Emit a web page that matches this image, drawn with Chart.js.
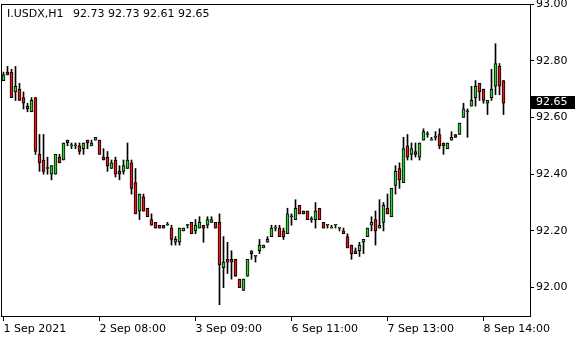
<!DOCTYPE html>
<html>
<head>
<meta charset="utf-8">
<script src="https://cdn.jsdelivr.net/npm/chart.js@4.4.1/dist/chart.umd.min.js"></script>
<style>
  html, body { margin: 0; padding: 0; background: #fff; }
  canvas { display: block; }
</style>
</head>
<body>
<canvas id="chart" width="580" height="340"></canvas>
<script>
const symbol = 'I.USDX,H1';

// hourly bars, oldest first
const opens = [
  92.73, 92.76, 92.76, 92.69, 92.70, 92.67, 92.64, 92.62, 92.67, 92.47,
  92.45, 92.42, 92.40, 92.40, 92.46, 92.45, 92.52, 92.50, 92.50, 92.50,
  92.49, 92.52, 92.50, 92.52, 92.52, 92.46, 92.46, 92.42, 92.45, 92.41,
  92.41, 92.42, 92.44, 92.37, 92.27, 92.32, 92.28, 92.24, 92.23, 92.22,
  92.22, 92.22, 92.21, 92.16, 92.16, 92.20, 92.22, 92.23, 92.20, 92.21,
  92.22, 92.22, 92.23, 92.23, 92.23, 92.07, 92.10, 92.10, 92.10, 92.03,
  91.99, 92.04, 92.13, 92.11, 92.13, 92.14, 92.16, 92.18, 92.21, 92.21,
  92.20, 92.19, 92.25, 92.24, 92.29, 92.27, 92.27, 92.24, 92.24, 92.28,
  92.23, 92.22, 92.21, 92.22, 92.21, 92.20, 92.18, 92.15, 92.13, 92.13,
  92.16, 92.18, 92.22, 92.24, 92.21, 92.23, 92.28, 92.25, 92.36, 92.42,
  92.37, 92.50, 92.47, 92.48, 92.46, 92.52, 92.54, 92.52, 92.53, 92.54,
  92.51, 92.49, 92.52, 92.54, 92.54, 92.60, 92.62, 92.64, 92.67, 92.72,
  92.70, 92.65, 92.67, 92.71, 92.78, 92.73
];
const highs = [
  92.76, 92.78, 92.77, 92.78, 92.72, 92.69, 92.65, 92.67, 92.67, 92.54,
  92.54, 92.46, 92.43, 92.47, 92.47, 92.51, 92.52, 92.51, 92.51, 92.51,
  92.51, 92.52, 92.52, 92.53, 92.52, 92.49, 92.48, 92.45, 92.46, 92.43,
  92.45, 92.51, 92.45, 92.42, 92.33, 92.33, 92.28, 92.26, 92.23, 92.22,
  92.22, 92.23, 92.22, 92.18, 92.21, 92.21, 92.22, 92.23, 92.24, 92.25,
  92.22, 92.25, 92.25, 92.23, 92.26, 92.18, 92.16, 92.13, 92.10, 92.03,
  92.03, 92.10, 92.13, 92.11, 92.17, 92.15, 92.18, 92.22, 92.22, 92.22,
  92.21, 92.28, 92.26, 92.31, 92.29, 92.27, 92.27, 92.25, 92.30, 92.28,
  92.23, 92.22, 92.22, 92.22, 92.21, 92.21, 92.19, 92.15, 92.14, 92.16,
  92.17, 92.21, 92.25, 92.27, 92.31, 92.30, 92.33, 92.35, 92.43, 92.44,
  92.53, 92.54, 92.51, 92.51, 92.51, 92.56, 92.55, 92.53, 92.55, 92.56,
  92.51, 92.51, 92.55, 92.54, 92.58, 92.65, 92.63, 92.71, 92.73, 92.72,
  92.70, 92.66, 92.77, 92.86, 92.79, 92.73
];
const lows = [
  92.73, 92.75, 92.67, 92.66, 92.66, 92.63, 92.62, 92.62, 92.47, 92.41,
  92.40, 92.40, 92.38, 92.40, 92.44, 92.45, 92.50, 92.49, 92.49, 92.47,
  92.47, 92.49, 92.50, 92.52, 92.47, 92.45, 92.41, 92.42, 92.39, 92.38,
  92.40, 92.42, 92.33, 92.26, 92.24, 92.27, 92.25, 92.22, 92.21, 92.21,
  92.21, 92.22, 92.15, 92.15, 92.15, 92.20, 92.21, 92.19, 92.19, 92.21,
  92.16, 92.21, 92.23, 92.21, 91.94, 92.00, 92.05, 92.03, 92.04, 92.00,
  91.99, 92.04, 92.10, 92.09, 92.12, 92.14, 92.16, 92.18, 92.20, 92.18,
  92.17, 92.19, 92.22, 92.24, 92.26, 92.26, 92.24, 92.23, 92.21, 92.24,
  92.21, 92.21, 92.21, 92.21, 92.20, 92.19, 92.14, 92.10, 92.12, 92.11,
  92.12, 92.18, 92.20, 92.15, 92.21, 92.20, 92.26, 92.25, 92.33, 92.35,
  92.37, 92.45, 92.45, 92.46, 92.45, 92.52, 92.53, 92.52, 92.52, 92.49,
  92.47, 92.49, 92.52, 92.53, 92.54, 92.60, 92.53, 92.64, 92.64, 92.66,
  92.65, 92.61, 92.66, 92.68, 92.68, 92.61
];
const closes = [
  92.75, 92.75, 92.67, 92.71, 92.66, 92.65, 92.63, 92.66, 92.48, 92.44,
  92.41, 92.42, 92.43, 92.47, 92.44, 92.51, 92.51, 92.50, 92.50, 92.48,
  92.51, 92.51, 92.51, 92.53, 92.47, 92.45, 92.43, 92.44, 92.40, 92.40,
  92.43, 92.45, 92.35, 92.26, 92.33, 92.27, 92.25, 92.22, 92.21, 92.21,
  92.21, 92.22, 92.17, 92.17, 92.21, 92.21, 92.22, 92.19, 92.22, 92.23,
  92.21, 92.24, 92.24, 92.21, 92.08, 92.09, 92.09, 92.09, 92.04, 92.00,
  92.03, 92.10, 92.12, 92.11, 92.15, 92.15, 92.17, 92.21, 92.21, 92.18,
  92.18, 92.26, 92.25, 92.28, 92.26, 92.26, 92.24, 92.24, 92.27, 92.24,
  92.21, 92.22, 92.21, 92.22, 92.21, 92.19, 92.14, 92.12, 92.12, 92.15,
  92.17, 92.21, 92.23, 92.20, 92.22, 92.29, 92.26, 92.35, 92.41, 92.38,
  92.49, 92.46, 92.49, 92.47, 92.51, 92.55, 92.54, 92.52, 92.53, 92.50,
  92.50, 92.51, 92.53, 92.53, 92.58, 92.63, 92.62, 92.66, 92.71, 92.69,
  92.66, 92.66, 92.70, 92.79, 92.71, 92.65
];

const priceTicks = [92.0, 92.2, 92.4, 92.6, 92.8, 93.0];
const timeTicks = [0, 24, 48, 72, 96, 120];
const timeLabels = ['1 Sep 2021', '2 Sep 08:00', '3 Sep 09:00', '6 Sep 11:00', '7 Sep 13:00', '8 Sep 14:00'];

const UP = '#32cd32';
const DOWN = '#e3191c';
const FONT = { family: '"DejaVu Sans", Verdana, sans-serif', size: 11 };
const fontStr = '11px "DejaVu Sans", Verdana, sans-serif';

const bodies = opens.map((o, i) => ({ x: i, y: [o, closes[i]] }));
const wicks = lows.map((l, i) => ({ x: i, y: [l, highs[i]] }));
const bodyColors = opens.map((o, i) => closes[i] >= o ? UP : DOWN);

const last = opens.length - 1;

// frame, title line and the current price box
const mtDecor = {
  id: 'mtDecor',
  afterDraw(chart) {
    const { ctx, chartArea: a, scales } = chart;
    ctx.save();
    ctx.strokeStyle = '#000';
    ctx.lineWidth = 1;
    ctx.strokeRect(a.left + 0.5, a.top + 0.5, a.right - a.left, a.bottom - a.top);

    ctx.font = fontStr;
    ctx.fillStyle = '#000';
    ctx.textBaseline = 'alphabetic';
    ctx.fillText(symbol, 7, 17);
    const ohlc = [opens[last], highs[last], lows[last], closes[last]].map(v => v.toFixed(2)).join(' ');
    ctx.fillText(ohlc, 73, 17);

    const py = scales.y.getPixelForValue(closes[last]);
    ctx.fillStyle = '#000';
    ctx.fillRect(a.right + 1, Math.round(py) - 7, 44, 13);
    ctx.fillStyle = '#fff';
    ctx.textBaseline = 'middle';
    ctx.fillText(closes[last].toFixed(2), 536, Math.round(py) - 0.5);
    ctx.restore();
  }
};

new Chart(document.getElementById('chart'), {
  type: 'bar',
  data: {
    datasets: [
      {
        label: 'body',
        data: bodies,
        backgroundColor: bodyColors,
        borderColor: '#000',
        borderWidth: 1,
        borderSkipped: false,
        barThickness: 3,
        minBarLength: 1
      },
      {
        label: 'wick',
        data: wicks,
        backgroundColor: '#000',
        borderWidth: 0,
        barThickness: 1
      }
    ]
  },
  options: {
    responsive: false,
    animation: false,
    devicePixelRatio: 1,
    grouped: false,
    layout: { padding: { left: 1, top: 4, right: 0, bottom: 0 } },
    plugins: { legend: { display: false }, tooltip: { enabled: false }, title: { display: false } },
    scales: {
      x: {
        type: 'linear',
        min: -0.625,
        max: 131.625,
        offset: false,
        grid: { display: true, offset: false, drawOnChartArea: false, drawTicks: true, tickLength: 5, color: '#000' },
        border: { display: false },
        afterBuildTicks: s => { s.ticks = timeTicks.map(v => ({ value: v })); },
        afterFit: s => { s.height = 24; s.paddingLeft = 0; s.paddingRight = 0; },
        ticks: {
          autoSkip: false,
          maxRotation: 0,
          align: 'start',
          padding: 2,
          color: '#000',
          font: FONT,
          callback: v => timeLabels[timeTicks.indexOf(v)]
        }
      },
      y: {
        position: 'right',
        min: 91.9,
        max: 93.0,
        grid: { display: true, drawOnChartArea: false, drawTicks: true, tickLength: 4, color: '#000' },
        border: { display: false },
        afterBuildTicks: s => { s.ticks = priceTicks.map(v => ({ value: v })); },
        afterFit: s => { s.width = 50; s.paddingTop = 0; s.paddingBottom = 0; },
        ticks: {
          autoSkip: false,
          padding: 2,
          color: '#000',
          font: FONT,
          callback: v => v.toFixed(2)
        }
      }
    }
  },
  plugins: [mtDecor]
});
</script>
</body>
</html>
